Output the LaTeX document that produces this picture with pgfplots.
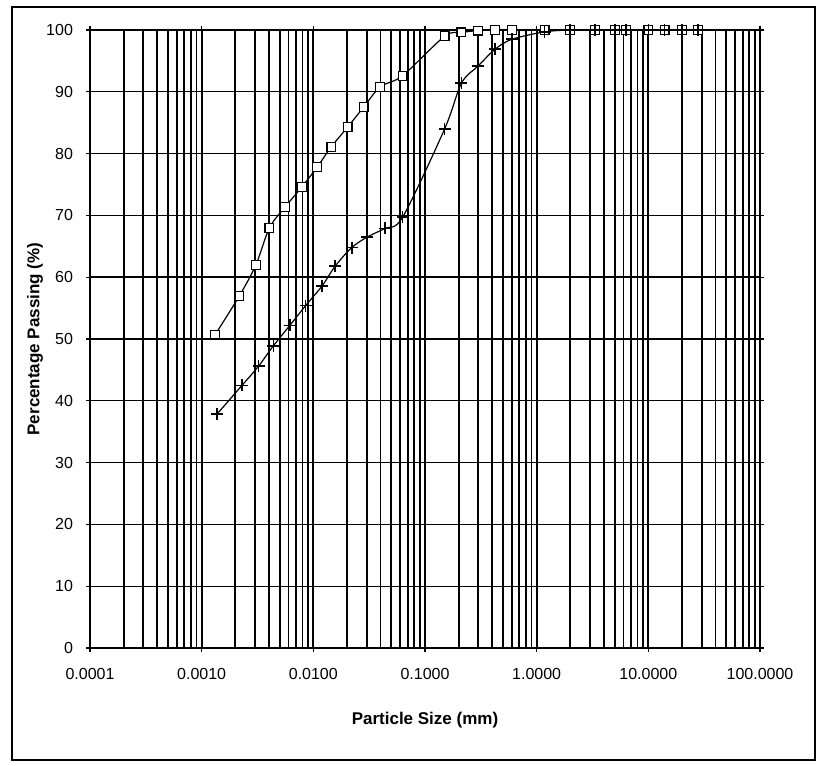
\documentclass[border=0pt]{standalone}
\usepackage{fontspec}
\setmainfont{Liberation Sans}
\usepackage{pgfplots}
\pgfplotsset{compat=1.18}

\begin{document}
\begin{tikzpicture}
\begin{axis}[
  scale only axis,
  width=335pt, height=309pt,
  xmode=log, xmin=1e-4, xmax=100,
  ymin=0, ymax=100,
  xtick={1e-4,1e-3,1e-2,1e-1,1,10,100},
  xticklabels={0.0001,0.0010,0.0100,0.1000,1.0000,10.0000,100.0000},
  ytick={0,10,...,100},
  grid=both,
  major grid style={black, line width=0.7pt},
  minor grid style={black, line width=0.9pt},
  axis line style={black, line width=1pt},
  tick style={black, line width=0.6pt},
  tick align=outside, major tick length=2pt, minor tick length=0pt,
  ticklabel style={font=\fontsize{8}{9}\selectfont},
  /pgf/number format/assume math mode=true,
  xticklabel style={anchor=center, yshift=-11pt},
  yticklabel style={anchor=east, xshift=-3pt},
  xlabel={Particle Size (mm)},
  ylabel={Percentage Passing (\%)},
  label style={font=\fontsize{8.5}{10}\selectfont\bfseries},
  xlabel style={at={(axis description cs:0.5,-0.1165)}, anchor=center},
  ylabel style={at={(axis description cs:-0.082,0.5)}, anchor=center},
  clip=false,
]
% sieve + hydrometer, sample 1
\addplot[black, line width=0.6pt, smooth, mark=square*,
  mark options={solid, fill=white, mark size=2.2pt, line width=0.6pt}] coordinates {
  (0.00132,50.7) (0.00218,57.0) (0.00306,62.0) (0.00405,68.0) (0.00561,71.4)
  (0.0079,74.6) (0.0108,77.8) (0.0145,81.1) (0.0203,84.3) (0.0282,87.5)
  (0.0397,90.8) (0.063,92.6) (0.15,99.0) (0.212,99.6) (0.3,99.9)
  (0.425,100) (0.6,100) (1.18,100) (2,100) (3.35,100) (5,100) (6.3,100)
  (10,100) (14,100) (20,100) (28,100)
};
% sample 2
\addplot[black, line width=0.6pt, smooth, mark=+,
  mark options={solid, mark size=3pt, line width=0.8pt}] coordinates {
  (0.00138,37.9) (0.0023,42.5) (0.00323,45.6) (0.00439,48.9) (0.00616,52.2)
  (0.00853,55.4) (0.012,58.6) (0.0157,61.8) (0.0221,64.8) (0.0304,66.5)
  (0.0437,67.9) (0.063,69.7) (0.15,84.0) (0.212,91.4) (0.3,94.2)
  (0.425,96.9) (0.6,98.5) (1.18,99.7) (2,100) (3.35,100) (5,100) (6.3,100)
  (10,100) (14,100) (20,100) (28,100)
};
\end{axis}
\draw[black, line width=0.8pt] (-39pt,-56pt) rectangle (362.5pt,320.5pt);
\path (-45pt,-58.5pt) rectangle (369pt,324pt);
\end{tikzpicture}
\end{document}
